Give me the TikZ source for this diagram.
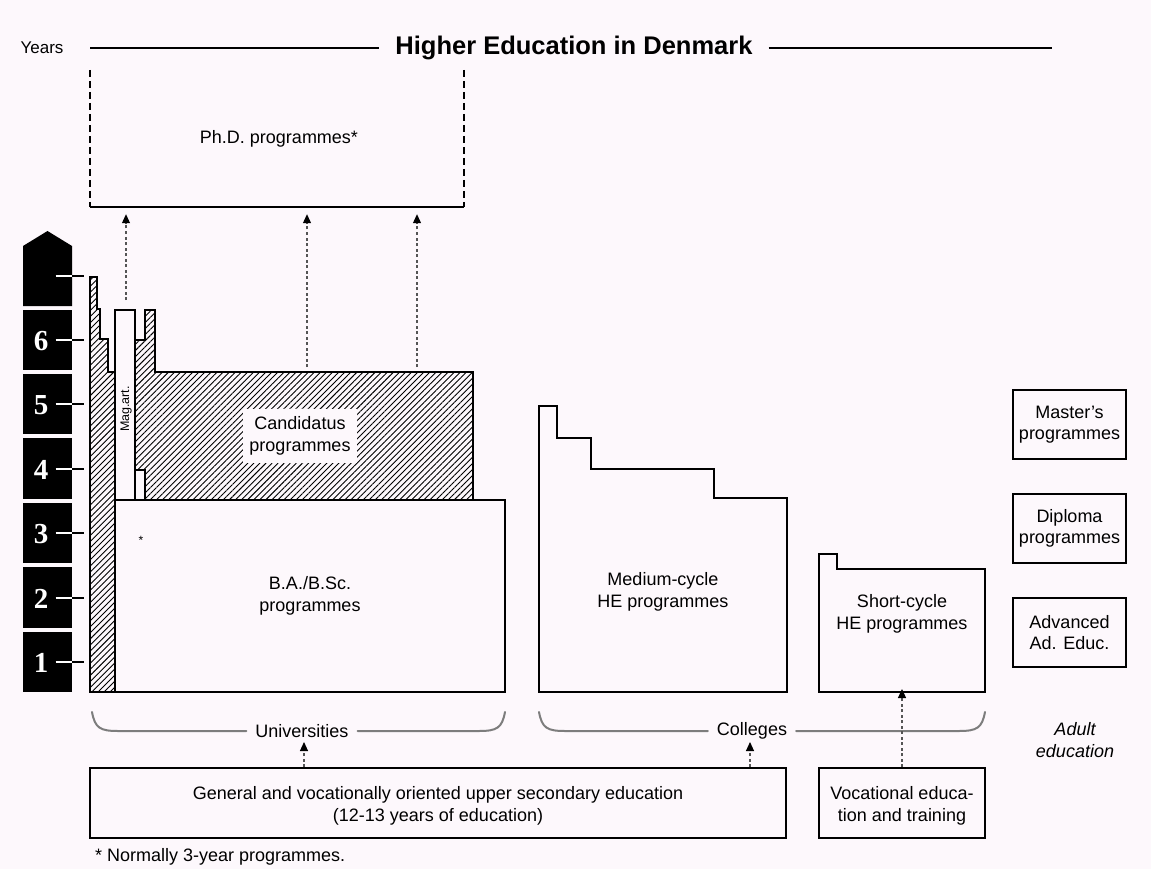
\documentclass[tikz,border=0pt]{standalone}
\usepackage{fontspec}
\setmainfont{Liberation Sans}
\newfontfamily\digitfont{Liberation Serif}
\usetikzlibrary{patterns.meta,arrows.meta}
\definecolor{bg}{RGB}{253,248,252}
\definecolor{bracegray}{RGB}{125,125,125}
\definecolor{dotgray}{RGB}{85,85,85}
\tikzset{
  txt/.style={font=\fontsize{18}{21.5}\selectfont, align=center, inner sep=0pt},
  outline/.style={draw=black, line width=1.8pt, line join=miter},
  hatch/.style={draw=black, line width=1.4pt, pattern={Lines[angle=45,distance=4.3pt,line width=0.9pt]}, pattern color=black},
  boxnode/.style={outline, inner sep=0pt, align=center, font=\fontsize{18}{21.5}\selectfont},
  phdside/.style={line width=2pt, dash pattern=on 7pt off 4pt},
  dotarrow/.style={dotgray, line width=1.1pt, dash pattern=on 3pt off 2.5pt, -{Triangle[length=9pt,width=8pt,fill=black,color=black]}},
  bracestyle/.style={bracegray, line width=2pt, line cap=round},
  yearblock/.style={fill=black, draw=none, minimum width=49pt, minimum height=60pt, inner sep=0pt},
  digit/.style={text=white, font=\digitfont\bfseries\fontsize{29}{29}\selectfont, inner sep=0pt},
  tickw/.style={white, line width=2pt},
  tickb/.style={black, line width=2pt}
}
\begin{document}
\begin{tikzpicture}[x=1pt,y=-1pt]
\useasboundingbox[fill=bg] (0,0) rectangle (1151,869);

% ---------- title row ----------
\node[inner sep=0pt, font=\fontsize{17}{20}\selectfont] (years) at (42,48) {Years};
\node[inner sep=0pt, font=\bfseries\fontsize{25.5}{30}\selectfont] (title) at (574,48) {Higher Education in Denmark};
\coordinate (tlA) at (90,48);
\coordinate (tlB) at (1052,48);
\draw[line width=1.3pt] (tlA) -- ([xshift=-16pt]title.west);
\draw[line width=1.3pt] ([xshift=16pt]title.east) -- (tlB);

% ---------- Ph.D. box ----------
\node[minimum width=374pt, minimum height=137pt, inner sep=0pt] (phd) at (277,138.5) {};
\draw[phdside] (phd.north west) -- (phd.south west);
\draw[phdside] (phd.north east) -- (phd.south east);
\draw[line width=2.2pt] (phd.south west) -- (phd.south east);
\node[txt] (phdtext) at (279,139) {Ph.D. programmes*};

% ---------- year bar ----------
\node[yearblock, minimum height=60pt] (b1) at (47.5,662) {};
\node[yearblock, minimum height=61pt] (b2) at (47.5,597.5) {};
\node[yearblock, minimum height=60pt] (b3) at (47.5,533) {};
\node[yearblock, minimum height=61pt] (b4) at (47.5,468.5) {};
\node[yearblock, minimum height=60pt] (b5) at (47.5,404) {};
\node[yearblock, minimum height=60pt] (b6) at (47.5,340) {};
\fill[black] (23,306) -- (23,246) -- (47.5,231) -- (72,246) -- (72,306) -- cycle;
\coordinate (b7) at (47.5,276);
\foreach \b/\d in {b1/1,b2/2,b3/3,b4/4,b5/5,b6/6}{
  \node[digit] at ([xshift=-6.5pt,yshift=-1pt]\b.center) {\d};
}
\foreach \b in {b1,b2,b3,b4,b5,b6,b7}{
  \draw[tickw] ([xshift=8pt]\b.center) -- ([xshift=24.5pt]\b.center);
  \draw[tickb] ([xshift=24.5pt]\b.center) -- ([xshift=36pt]\b.center);
}

% ---------- university shapes ----------
\draw[hatch] (90,692) -- (90,277) -- (97,277) -- (97,309) -- (100,309) -- (100,339) -- (108,339) -- (108,372) -- (115,372) -- (115,692) -- cycle;
\draw[hatch] (145,310) -- (155,310) -- (155,372) -- (473,372) -- (473,500) -- (145,500) -- (145,470) -- (135,470) -- (135,340) -- (145,340) -- cycle;
\node[fill=bg, inner xsep=6pt, inner ysep=7pt, font=\fontsize{18}{22.5}\selectfont, align=center] (cand) at (300,436) {Candidatus\\programmes};
\node[outline, minimum width=20pt, minimum height=190pt, inner sep=0pt, fill=bg] (magart) at (125,405) {};
\node[rotate=90, inner sep=0pt, font=\fontsize{12.5}{13}\selectfont] (magtext) at (126,409) {Mag.art.};
\node[boxnode, minimum width=390pt, minimum height=192pt] (ba) at (310,596) {B.A./B.Sc.\\programmes};
\node[inner sep=0pt, font=\fontsize{12}{12}\selectfont] (star) at (141,540) {*};

% ---------- colleges shapes ----------
\draw[outline] (539,692) -- (539,406) -- (557,406) -- (557,438) -- (591,438) -- (591,469) -- (714,469) -- (714,498) -- (787,498) -- (787,692) -- cycle;
\node[txt] (medium) at (663,592) {Medium-cycle\\HE programmes};
\draw[outline] (819,692) -- (819,554) -- (837,554) -- (837,569) -- (985,569) -- (985,692) -- cycle;
\node[txt] (short) at (902,614) {Short-cycle\\HE programmes};
\coordinate (shortbot) at (902,692);

% ---------- adult education boxes ----------
\node[boxnode, minimum width=113pt, minimum height=69pt] (master) at (1069.5,424.5) {Master's\\programmes};
\node[boxnode, minimum width=113pt, minimum height=69pt] (diploma) at (1069.5,528.5) {Diploma\\programmes};
\node[boxnode, minimum width=113pt, minimum height=69pt] (advanced) at (1069.5,632.5) {Advanced\\Ad. Educ.};

% ---------- Ph.D. arrows ----------
\coordinate (pa1) at (126,300);
\coordinate (pa2) at (307,367);
\coordinate (pa3) at (417,367);
\draw[dotarrow] (pa1) -- ([yshift=-7pt]pa1 |- phd.south);
\draw[dotarrow] (pa2) -- ([yshift=-7pt]pa2 |- phd.south);
\draw[dotarrow] (pa3) -- ([yshift=-7pt]pa3 |- phd.south);

% ---------- braces ----------
\node[txt] (univ) at (302,731) {Universities};
\node[txt] (coll) at (752,731) {Colleges};
\draw[bracestyle] (92,712) .. controls (95,728) and (100,731) .. (118,731) -- ([xshift=-9pt]univ.west);
\draw[bracestyle] ([xshift=9pt]univ.east) -- (479,731) .. controls (497,731) and (502,728) .. (505,712);
\draw[bracestyle] (539,712) .. controls (542,728) and (547,731) .. (565,731) -- ([xshift=-9pt]coll.west);
\draw[bracestyle] ([xshift=9pt]coll.east) -- (959,731) .. controls (977,731) and (982,728) .. (985,712);
\node[txt, font=\itshape\fontsize{18}{21.5}\selectfont] (adult) at (1075,740) {Adult\\education};

% ---------- bottom boxes ----------
\node[outline, minimum width=696pt, minimum height=70pt, inner sep=0pt] (gen) at (438,803) {};
\node[txt] (gentext) at (438,806) {General and vocationally oriented upper secondary education\\(12-13 years of education)};
\node[outline, minimum width=166pt, minimum height=70pt, inner sep=0pt] (voc) at (902,803) {};
\node[txt] (voctext) at (902,806) {Vocational educa-\\tion and training};
\coordinate (ua) at (304,742);
\coordinate (ca) at (750,742);
\draw[dotarrow] (gen.north -| ua) -- (ua);
\draw[dotarrow] (gen.north -| ca) -- (ca);
\draw[dotarrow] (voc.north) -- ([yshift=3pt]shortbot);

\node[anchor=west, inner sep=0pt, font=\fontsize{18}{21.5}\selectfont] (foot) at (95,857) {* Normally 3-year programmes.};
\end{tikzpicture}
\end{document}
